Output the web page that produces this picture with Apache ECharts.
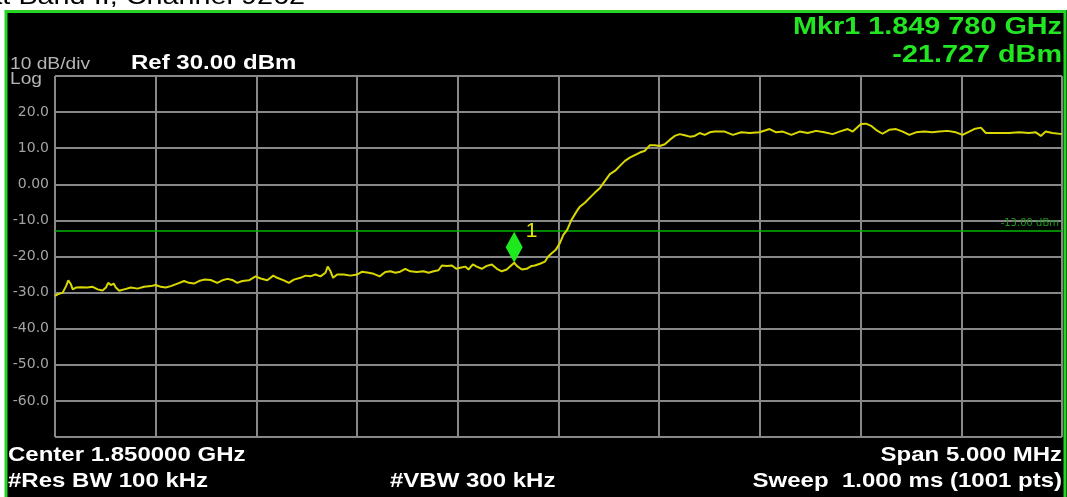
<!DOCTYPE html>
<html>
<head>
<meta charset="utf-8">
<script src="https://cdn.jsdelivr.net/npm/echarts@6/dist/echarts.min.js"></script>
<style>
  html, body { margin: 0; padding: 0; background: #fff; }
  #chart { width: 1067px; height: 497px; }
</style>
</head>
<body>
<div id="chart"></div>
<script>
// Swept spectrum trace, 1001-point sweep (sampled), frequency in MHz, level in dBm
const freqMHz = [
  1847.500, 1847.513, 1847.538, 1847.555, 1847.566, 1847.579, 1847.588, 1847.604, 1847.629, 1847.662,
  1847.687, 1847.712, 1847.736, 1847.753, 1847.764, 1847.777, 1847.791, 1847.802, 1847.819, 1847.843,
  1847.877, 1847.910, 1847.942, 1847.976, 1848.000, 1848.025, 1848.050, 1848.075, 1848.108, 1848.141,
  1848.165, 1848.190, 1848.215, 1848.240, 1848.273, 1848.306, 1848.331, 1848.356, 1848.380, 1848.405,
  1848.430, 1848.463, 1848.496, 1848.521, 1848.554, 1848.584, 1848.603, 1848.636, 1848.661, 1848.686,
  1848.719, 1848.744, 1848.768, 1848.793, 1848.818, 1848.843, 1848.854, 1848.868, 1848.881, 1848.901,
  1848.934, 1848.967, 1849.000, 1849.025, 1849.057, 1849.082, 1849.112, 1849.140, 1849.165, 1849.190,
  1849.214, 1849.239, 1849.264, 1849.297, 1849.330, 1849.355, 1849.380, 1849.404, 1849.421, 1849.446,
  1849.471, 1849.492, 1849.512, 1849.537, 1849.553, 1849.575, 1849.594, 1849.619, 1849.644, 1849.669,
  1849.694, 1849.718, 1849.743, 1849.780, 1849.793, 1849.818, 1849.842, 1849.867, 1849.883, 1849.908,
  1849.933, 1849.949, 1849.966, 1849.987, 1850.007, 1850.024, 1850.043, 1850.065, 1850.090, 1850.106,
  1850.131, 1850.156, 1850.181, 1850.206, 1850.230, 1850.255, 1850.280, 1850.305, 1850.330, 1850.354,
  1850.379, 1850.404, 1850.429, 1850.453, 1850.478, 1850.503, 1850.528, 1850.552, 1850.577, 1850.602,
  1850.627, 1850.652, 1850.676, 1850.701, 1850.726, 1850.751, 1850.775, 1850.825, 1850.866, 1850.908,
  1850.949, 1850.998, 1851.048, 1851.081, 1851.114, 1851.156, 1851.197, 1851.238, 1851.279, 1851.320,
  1851.361, 1851.395, 1851.436, 1851.461, 1851.502, 1851.527, 1851.552, 1851.576, 1851.609, 1851.642,
  1851.676, 1851.709, 1851.742, 1851.775, 1851.816, 1851.857, 1851.890, 1851.932, 1851.973, 1852.006,
  1852.039, 1852.064, 1852.097, 1852.122, 1852.155, 1852.188, 1852.237, 1852.287, 1852.336, 1852.370,
  1852.395, 1852.419, 1852.452, 1852.500
];
const levelDbm = [
  -30.9, -30.5, -30.0, -28.2, -26.6, -27.7, -29.1, -28.6, -28.5, -28.6,
  -28.4, -29.1, -29.4, -28.6, -27.3, -27.9, -27.5, -28.6, -29.5, -29.1,
  -28.6, -28.9, -28.4, -28.2, -27.9, -28.4, -28.6, -28.2, -27.5, -26.8,
  -27.3, -27.5, -26.8, -26.4, -26.5, -27.3, -26.6, -26.2, -26.5, -27.3,
  -26.8, -26.6, -25.5, -26.1, -26.6, -25.3, -25.9, -26.6, -27.3, -26.4,
  -25.9, -25.3, -25.5, -25.0, -25.5, -24.5, -22.8, -24.1, -25.9, -25.0,
  -25.0, -25.3, -25.0, -24.2, -24.5, -24.8, -25.5, -24.3, -24.1, -24.5,
  -24.2, -23.4, -24.1, -24.3, -24.1, -24.5, -24.1, -23.8, -22.5, -22.6,
  -22.5, -23.4, -23.1, -22.8, -23.6, -22.2, -22.8, -23.4, -22.6, -22.2,
  -23.4, -24.1, -23.6, -21.727, -22.6, -23.6, -23.4, -22.6, -22.5, -22.0,
  -21.4, -20.0, -19.1, -18.1, -16.3, -14.0, -12.6, -9.8, -7.5, -6.2,
  -5.1, -3.7, -2.3, -1.0, 0.9, 2.8, 3.7, 5.1, 6.5, 7.4,
  8.1, 8.8, 9.3, 10.8, 10.8, 10.6, 11.1, 12.3, 13.4, 13.9,
  13.6, 13.2, 13.4, 14.2, 13.7, 14.4, 14.6, 14.6, 13.7, 14.4,
  14.2, 14.4, 15.3, 14.4, 14.6, 13.7, 14.6, 14.2, 14.8, 14.4,
  13.9, 14.6, 15.3, 14.6, 16.7, 16.8, 16.2, 15.1, 14.0, 15.1,
  15.3, 14.6, 13.7, 14.4, 14.6, 14.4, 14.6, 14.8, 14.4, 13.7,
  14.6, 15.3, 15.7, 14.2, 14.2, 14.2, 14.2, 14.4, 14.2, 14.4,
  13.4, 14.6, 14.2, 13.9
];

// Marker 1 and display line
const markerFreqMHz = 1849.780;
const markerLevelDbm = -21.727;
const limitDbm = -13;

// Sweep settings shown in the annotation bar
const centerGHz = '1.850000';
const spanMHz = '5.000';
const refLevelDbm = '30.00';
const scaleDbPerDiv = 10;
const resBw = '100 kHz';
const vbw = '300 kHz';
const sweepTime = '1.000 ms';
const sweepPoints = 1001;
const titleText = 'at Band II, Channel 9262';

// Y tick labels (dBm) as the analyzer prints them
const yTickText = { 20: '20.0', 10: '10.0', 0: '0.00', '-10': '-10.0', '-20': '-20.0',
  '-30': '-30.0', '-40': '-40.0', '-50': '-50.0', '-60': '-60.0' };

const FONT = '"Liberation Sans", Arial, sans-serif';
const STRETCH = 1.2;

function txt(text, x, y, size, color, opts) {
  opts = opts || {};
  return {
    type: 'text', x: x, y: y, scaleX: opts.scaleX || STRETCH, z: 120, silent: true,
    style: {
      text: text, x: 0, y: 0, fill: color,
      font: (opts.bold ? 'bold ' : '') + size + 'px ' + FONT,
      textAlign: opts.align || 'left',
      textVerticalAlign: opts.valign || 'middle'
    }
  };
}

const freqLabel = (markerFreqMHz / 1000).toFixed(6);
const mkrLine1 = 'Mkr1 ' + freqLabel.slice(0, 5) + ' ' + freqLabel.slice(5) + ' GHz';
const mkrLine2 = markerLevelDbm.toFixed(3) + ' dBm';

const chart = echarts.init(document.getElementById('chart'), null, { renderer: 'canvas' });

const gridLine = { show: true, lineStyle: { color: '#888888', width: 2 } };

const option = {
  backgroundColor: '#000',
  animation: false,
  grid: { left: 55, top: 76, width: 1007, height: 361, containLabel: false, outerBoundsMode: 'none' },
  xAxis: {
    type: 'value', min: 1847.5, max: 1852.5, interval: 0.5,
    axisLine: { show: false }, axisTick: { show: false }, axisLabel: { show: false },
    splitLine: gridLine
  },
  yAxis: {
    type: 'value', min: -70, max: 30, interval: scaleDbPerDiv,
    axisLine: { show: false }, axisTick: { show: false },
    splitLine: gridLine,
    axisLabel: {
      margin: 6, color: '#a4a4a4', fontSize: 14, fontFamily: '"DejaVu Sans", sans-serif',
      formatter: v => yTickText[v] || ''
    }
  },
  series: [{
    type: 'line',
    data: freqMHz.map((f, i) => [f, levelDbm[i]]),
    showSymbol: false,
    lineStyle: { color: '#d8d800', width: 2 },
    z: 5,
    markLine: {
      silent: true, symbol: 'none', animation: false,
      lineStyle: { color: '#00b400', width: 1.5, type: 'solid' },
      label: {
        show: true, position: 'insideEndTop', distance: 3,
        formatter: limitDbm.toFixed(2) + ' dBm',
        color: '#1f9a1f', fontSize: 10, fontFamily: '"DejaVu Sans", sans-serif'
      },
      data: [{ yAxis: limitDbm }]
    },
    markPoint: {
      silent: true, animation: false,
      symbol: 'diamond', symbolSize: [17, 31], symbolOffset: [0, '-50%'],
      itemStyle: { color: '#1ee81e' },
      label: {
        show: true, position: 'right', distance: 3, offset: [0, -16],
        formatter: '1', color: '#e6e600', fontSize: 21, fontFamily: FONT
      },
      data: [{ coord: [markerFreqMHz, markerLevelDbm] }]
    }
  }],
  graphic: [
    // white page margin above and left of the analyzer screen
    { type: 'rect', z: 110, silent: true, shape: { x: 0, y: 0, width: 1067, height: 10 }, style: { fill: '#fff' } },
    { type: 'rect', z: 110, silent: true, shape: { x: 0, y: 0, width: 5, height: 497 }, style: { fill: '#fff' } },
    txt(titleText, 305, 9, 24, '#000', { align: 'right', valign: 'bottom', scaleX: 1.2 }),
    // green screen frame
    { type: 'rect', z: 130, silent: true, shape: { x: 6, y: 11.5, width: 1059, height: 500 },
      style: { fill: null, stroke: '#25d425', lineWidth: 3 } },
    txt(scaleDbPerDiv + ' dB/div', 10, 65, 16, '#b4b4b4'),
    txt('Log', 10, 80, 16, '#b4b4b4'),
    txt('Ref ' + refLevelDbm + ' dBm', 131, 63.5, 20, '#ffffff', { bold: true }),
    txt(mkrLine1, 1062, 27, 24, '#22e622', { bold: true, align: 'right' }),
    txt(mkrLine2, 1062, 55, 24, '#22e622', { bold: true, align: 'right' }),
    txt('Center ' + centerGHz + ' GHz', 8, 455, 20, '#ffffff', { bold: true }),
    txt('Span ' + spanMHz + ' MHz', 1062, 455, 20, '#ffffff', { bold: true, align: 'right' }),
    txt('#Res BW ' + resBw, 8, 481, 20, '#ffffff', { bold: true }),
    txt('#VBW ' + vbw, 390, 481, 20, '#ffffff', { bold: true }),
    txt('Sweep  ' + sweepTime + ' (' + sweepPoints + ' pts)', 1062, 481, 20, '#ffffff', { bold: true, align: 'right' })
  ]
};

chart.setOption(option);
</script>
</body>
</html>
